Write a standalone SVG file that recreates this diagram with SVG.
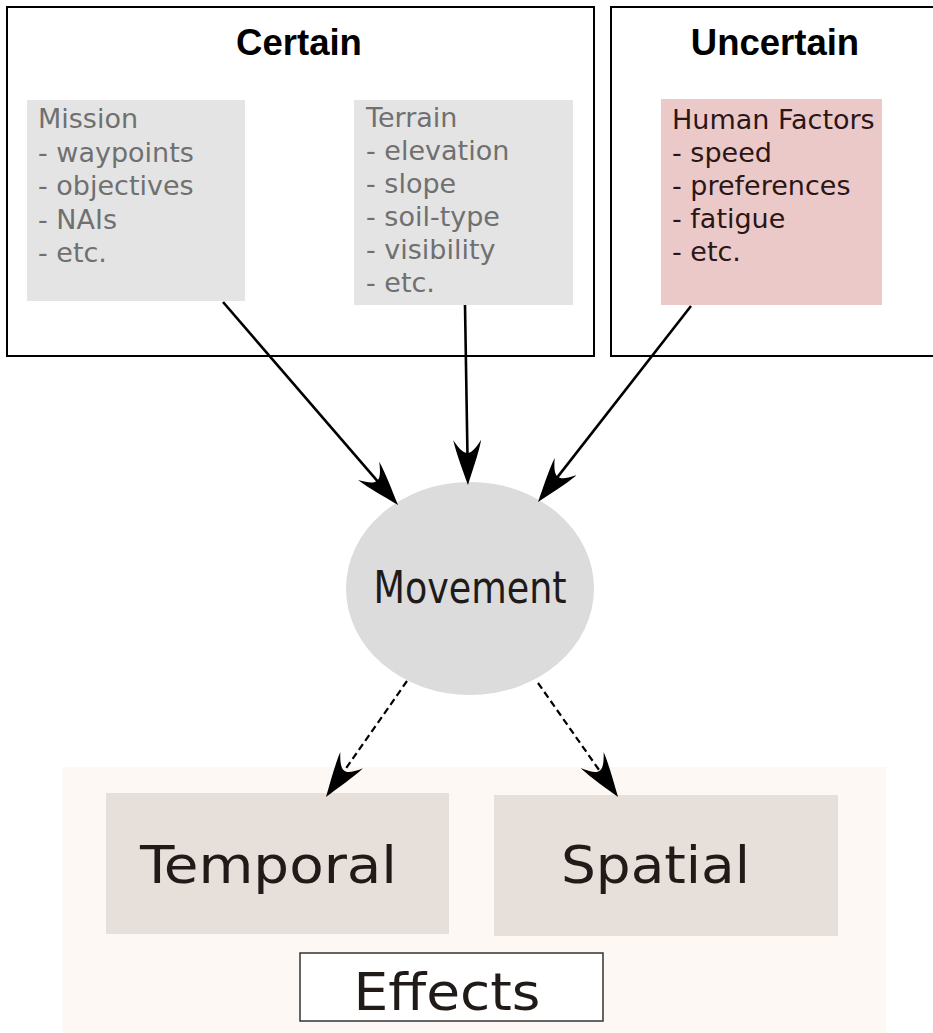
<svg xmlns="http://www.w3.org/2000/svg" width="933" height="1033" viewBox="0 0 933 1033">
  <defs>
    <style>
      .frame { fill: #ffffff; stroke: #000000; stroke-width: 2; }
      .title { font-family: "Liberation Sans", Arial, sans-serif; font-weight: bold; font-size: 36.5px; fill: #000000; text-anchor: middle; }
      .list { font-family: "DejaVu Sans", Verdana, sans-serif; font-size: 27px; }
      .grey-card { fill: #e4e4e4; }
      .grey-text { fill: #707070; }
      .pink-card { fill: #ecc9c9; }
      .pink-text { fill: #2b1616; }
      .big { font-family: "DejaVu Sans Condensed", "DejaVu Sans", sans-serif; fill: #201a18; text-anchor: middle; }
      .effect-card { fill: #e7dfda; }
      .link { fill: none; stroke: #000000; stroke-width: 2.6; marker-end: url(#head); }
      .link-dashed { fill: none; stroke: #000000; stroke-width: 2.2; stroke-dasharray: 7 4; marker-end: url(#head); }
    </style>
    <!-- swept arrowhead shared by all connectors -->
    <marker id="head" markerUnits="userSpaceOnUse" markerWidth="46" markerHeight="28" refX="35" refY="14" orient="auto" viewBox="0 0 46 28">
      <path d="M45,14 C30,9 14,3 0,0 C9,6 13,10 13,14 C13,18 9,22 0,28 C14,25 30,19 45,14 Z" fill="#000000"/>
    </marker>
  </defs>

  <!-- effects backdrop -->
  <rect x="62" y="767" width="824" height="266" fill="#fdf8f4"/>

  <g id="certain">
    <rect class="frame" x="7" y="7" width="587" height="349"/>
    <text class="title" x="299" y="55">Certain</text>
  </g>

  <g id="uncertain">
    <path class="frame" d="M940,7 H611 V356 H940"/>
    <text class="title" x="775" y="55">Uncertain</text>
  </g>

  <g id="mission">
    <rect class="grey-card" x="27" y="100" width="218" height="201"/>
    <text class="list grey-text">
      <tspan x="38" y="128">Mission</tspan>
      <tspan x="38" y="161.5">- waypoints</tspan>
      <tspan x="38" y="195">- objectives</tspan>
      <tspan x="38" y="228.5">- NAIs</tspan>
      <tspan x="38" y="262">- etc.</tspan>
    </text>
  </g>

  <g id="terrain">
    <rect class="grey-card" x="354" y="100" width="219" height="205"/>
    <text class="list grey-text">
      <tspan x="366" y="127">Terrain</tspan>
      <tspan x="366" y="160">- elevation</tspan>
      <tspan x="366" y="193">- slope</tspan>
      <tspan x="366" y="226">- soil-type</tspan>
      <tspan x="366" y="259">- visibility</tspan>
      <tspan x="366" y="292">- etc.</tspan>
    </text>
  </g>

  <g id="human-factors">
    <rect class="pink-card" x="661" y="99" width="221" height="206"/>
    <text class="list pink-text">
      <tspan x="672" y="129">Human Factors</tspan>
      <tspan x="672" y="162">- speed</tspan>
      <tspan x="672" y="195">- preferences</tspan>
      <tspan x="672" y="228">- fatigue</tspan>
      <tspan x="672" y="261">- etc.</tspan>
    </text>
  </g>

  <g id="movement">
    <ellipse cx="470" cy="588.5" rx="124" ry="106.5" fill="#dcdcdc"/>
    <text class="big" x="470" y="603" font-size="45" textLength="193" lengthAdjust="spacingAndGlyphs">Movement</text>
  </g>

  <g id="temporal">
    <rect class="effect-card" x="106" y="793" width="343" height="141"/>
    <text class="big" x="268.5" y="883" font-size="52" textLength="257" lengthAdjust="spacingAndGlyphs">Temporal</text>
  </g>

  <g id="spatial">
    <rect class="effect-card" x="494" y="795" width="344" height="141"/>
    <text class="big" x="655.5" y="883" font-size="52" textLength="189" lengthAdjust="spacingAndGlyphs">Spatial</text>
  </g>

  <g id="effects">
    <rect x="300" y="953" width="303" height="68" fill="#ffffff" stroke="#333333" stroke-width="1.5"/>
    <text class="big" x="447" y="1010" font-size="52" textLength="187" lengthAdjust="spacingAndGlyphs">Effects</text>
  </g>

  <g id="connectors">
    <path class="link" d="M223,302 L391.5,497.4"/>
    <path class="link" d="M465,305 L467.8,475"/>
    <path class="link" d="M691,306 L544.2,494.1"/>
    <path class="link-dashed" d="M407,681 L331.7,788.8"/>
    <path class="link-dashed" d="M538,683 L612.3,788.8"/>
  </g>
</svg>
